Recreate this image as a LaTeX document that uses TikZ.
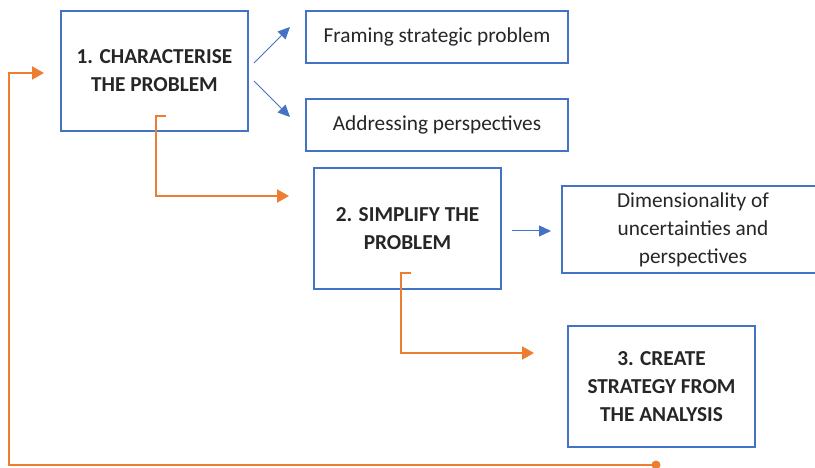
\documentclass[tikz,border=0pt]{standalone}
\usepackage{fontspec}
\setmainfont{Carlito}
\usetikzlibrary{arrows.meta}
\definecolor{boxblue}{HTML}{4472C4}
\definecolor{arrorange}{HTML}{ED7D31}
\definecolor{txt}{HTML}{262626}
\tikzset{
  box/.style={draw=boxblue, line width=1.5pt, align=center, text=txt, inner sep=0pt},
  headbox/.style={box, font=\fontsize{21.3}{28}\selectfont\bfseries},
  subbox/.style={box, font=\fontsize{21.3}{28}\selectfont},
  bluearr/.style={draw=boxblue, line width=1pt, -{Triangle[length=12pt,width=11pt]}},
  orarr/.style={draw=arrorange, line width=2pt, -{Triangle[length=12pt,width=13pt]}},
}
\begin{document}
\begin{tikzpicture}[x=1pt,y=-1pt]
\useasboundingbox (0,0) rectangle (815,468);
\node[headbox, minimum width=187pt, minimum height=120pt] (b1) at (154.5,71) {1. CHARACTERISE\\THE PROBLEM};
\node[subbox, minimum width=262pt, minimum height=52pt] (f1) at (437,37) {Framing strategic problem};
\node[subbox, minimum width=262pt, minimum height=52pt] (f2) at (437,125) {Addressing perspectives};
\node[headbox, minimum width=187pt, minimum height=121pt] (b2) at (407.5,228.5) {2. SIMPLIFY THE\\PROBLEM};
\node[subbox, minimum width=262pt, minimum height=87pt] (d1) at (693,229.5) {Dimensionality of\\uncertainties and\\perspectives};
\node[headbox, minimum width=187pt, minimum height=121pt] (b3) at (661.5,386.5) {3. CREATE\\STRATEGY FROM\\THE ANALYSIS};
% blue arrows
\coordinate (a1s) at (254,63);
\coordinate (a1e) at (290,27);
\coordinate (a2s) at (254,81);
\coordinate (a2e) at (290,117);
\coordinate (a3s) at (512,231);
\coordinate (a3e) at (551,231);
\draw[bluearr] (a1s) -- (a1e);
\draw[bluearr] (a2s) -- (a2e);
\draw[bluearr] (a3s) -- (a3e);
% orange connectors
\coordinate (o1s) at (166,116);
\coordinate (o1e) at (289,196);
\draw[orarr] (o1s) -- (156,116) |- (o1e);
\coordinate (o2s) at (411,273);
\coordinate (o2e) at (534,353);
\draw[orarr] (o2s) -- (401,273) |- (o2e);
\coordinate (o3s) at (656,465);
\coordinate (o3e) at (44,73);
\fill[arrorange] (o3s) circle (4.5pt);
\draw[orarr] (o3s) -- (9,465) |- (o3e);
\end{tikzpicture}
\end{document}
